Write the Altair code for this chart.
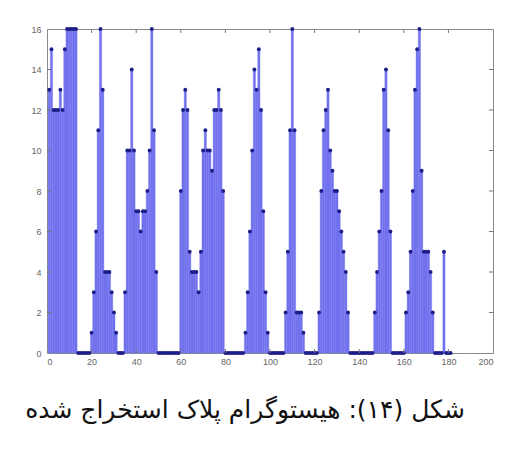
import altair as alt
import pandas as pd

# histogram bins (1..181) and counts
bins = list(range(1, 182))
counts = [
    13, 15, 12, 12, 12, 13, 12, 15, 16, 16,
    16, 16, 16, 0, 0, 0, 0, 0, 0, 1,
    3, 6, 11, 16, 13, 4, 4, 4, 3, 2,
    1, 0, 0, 0, 3, 10, 10, 14, 10, 7,
    7, 6, 7, 7, 8, 10, 16, 11, 4, 0,
    0, 0, 0, 0, 0, 0, 0, 0, 0, 8,
    12, 13, 12, 5, 4, 4, 4, 3, 5, 10,
    11, 10, 10, 9, 12, 12, 13, 12, 8, 0,
    0, 0, 0, 0, 0, 0, 0, 0, 1, 3,
    6, 10, 14, 13, 15, 12, 7, 3, 1, 0,
    0, 0, 0, 0, 0, 0, 2, 5, 11, 16,
    11, 2, 2, 2, 1, 0, 0, 0, 0, 0,
    0, 2, 8, 11, 12, 13, 10, 9, 8, 8,
    7, 6, 5, 4, 2, 0, 0, 0, 0, 0,
    0, 0, 0, 0, 0, 0, 2, 4, 6, 8,
    13, 14, 11, 6, 0, 0, 0, 0, 0, 0,
    2, 3, 5, 8, 13, 15, 16, 9, 5, 5,
    5, 4, 2, 0, 0, 0, 0, 5, 0, 0,
    0,
]

x_ticks = [0, 20, 40, 60, 80, 100, 120, 140, 160, 180, 200]
y_ticks = [0, 2, 4, 6, 8, 10, 12, 14, 16]
inner_x_ticks = x_ticks[1:-1]
inner_y_ticks = y_ticks[1:-1]

caption = "\u202bشکل (۱۴): هیستوگرام پلاک استخراج شده\u202c"

W, H = 446, 324

df = pd.DataFrame({"bin": bins, "count": counts})
xt = pd.DataFrame({"t": inner_x_ticks})
yt = pd.DataFrame({"t": inner_y_ticks})
cap = pd.DataFrame({"label": [caption]})

x_scale = alt.Scale(domain=[0, 200], nice=False, zero=False)
y_scale = alt.Scale(domain=[0, 16], nice=False)

x_axis = alt.Axis(values=x_ticks, title=None, ticks=False, domain=False, grid=False,
                  labelFontSize=9, labelColor="#666666", labelPadding=4, labelFont="Liberation Sans")
y_axis = alt.Axis(values=y_ticks, title=None, ticks=False, domain=False, grid=False,
                  labelFontSize=9, labelColor="#666666", labelPadding=6, labelFont="Liberation Sans")

bars = alt.Chart(df).transform_calculate(
    x0="datum.bin - 0.5", x1="datum.bin + 0.5", zero="0"
).mark_rect(color="#7272ee", stroke="#7272ee", strokeWidth=0.4).encode(
    x=alt.X("x0:Q", scale=x_scale, axis=x_axis),
    x2="x1:Q",
    y=alt.Y("count:Q", scale=y_scale, axis=y_axis),
    y2="zero:Q",
)

pts = alt.Chart(df).mark_point(filled=True, size=15, color="#1e1e8a", opacity=1).encode(
    x=alt.X("bin:Q", scale=x_scale),
    y=alt.Y("count:Q", scale=y_scale),
)

tick_color = "#777777"
bx = alt.Chart(xt).mark_rule(color=tick_color, strokeWidth=1).encode(
    x=alt.X("t:Q", scale=x_scale), y=alt.value(H), y2=alt.value(H - 4))
tx = alt.Chart(xt).mark_rule(color=tick_color, strokeWidth=1).encode(
    x=alt.X("t:Q", scale=x_scale), y=alt.value(0), y2=alt.value(4))
ly = alt.Chart(yt).mark_rule(color=tick_color, strokeWidth=1).encode(
    y=alt.Y("t:Q", scale=y_scale), x=alt.value(0), x2=alt.value(4))
ry = alt.Chart(yt).mark_rule(color=tick_color, strokeWidth=1).encode(
    y=alt.Y("t:Q", scale=y_scale), x=alt.value(W), x2=alt.value(W - 4))

text = alt.Chart(cap).mark_text(
    fontSize=25, font="DejaVu Sans", color="#111111", align="center", baseline="middle"
).encode(x=alt.value(198), y=alt.value(381), text="label:N")

chart = alt.layer(bars, pts, bx, tx, ly, ry, text).properties(
    width=W, height=H,
    autosize="none",
    padding={"left": 39, "top": 21, "right": 10, "bottom": 80},
    background="white",
).configure_view(stroke="#8a8a8a", strokeWidth=1)

chart.save("out.html", embed_options={"renderer": "svg", "actions": False})
